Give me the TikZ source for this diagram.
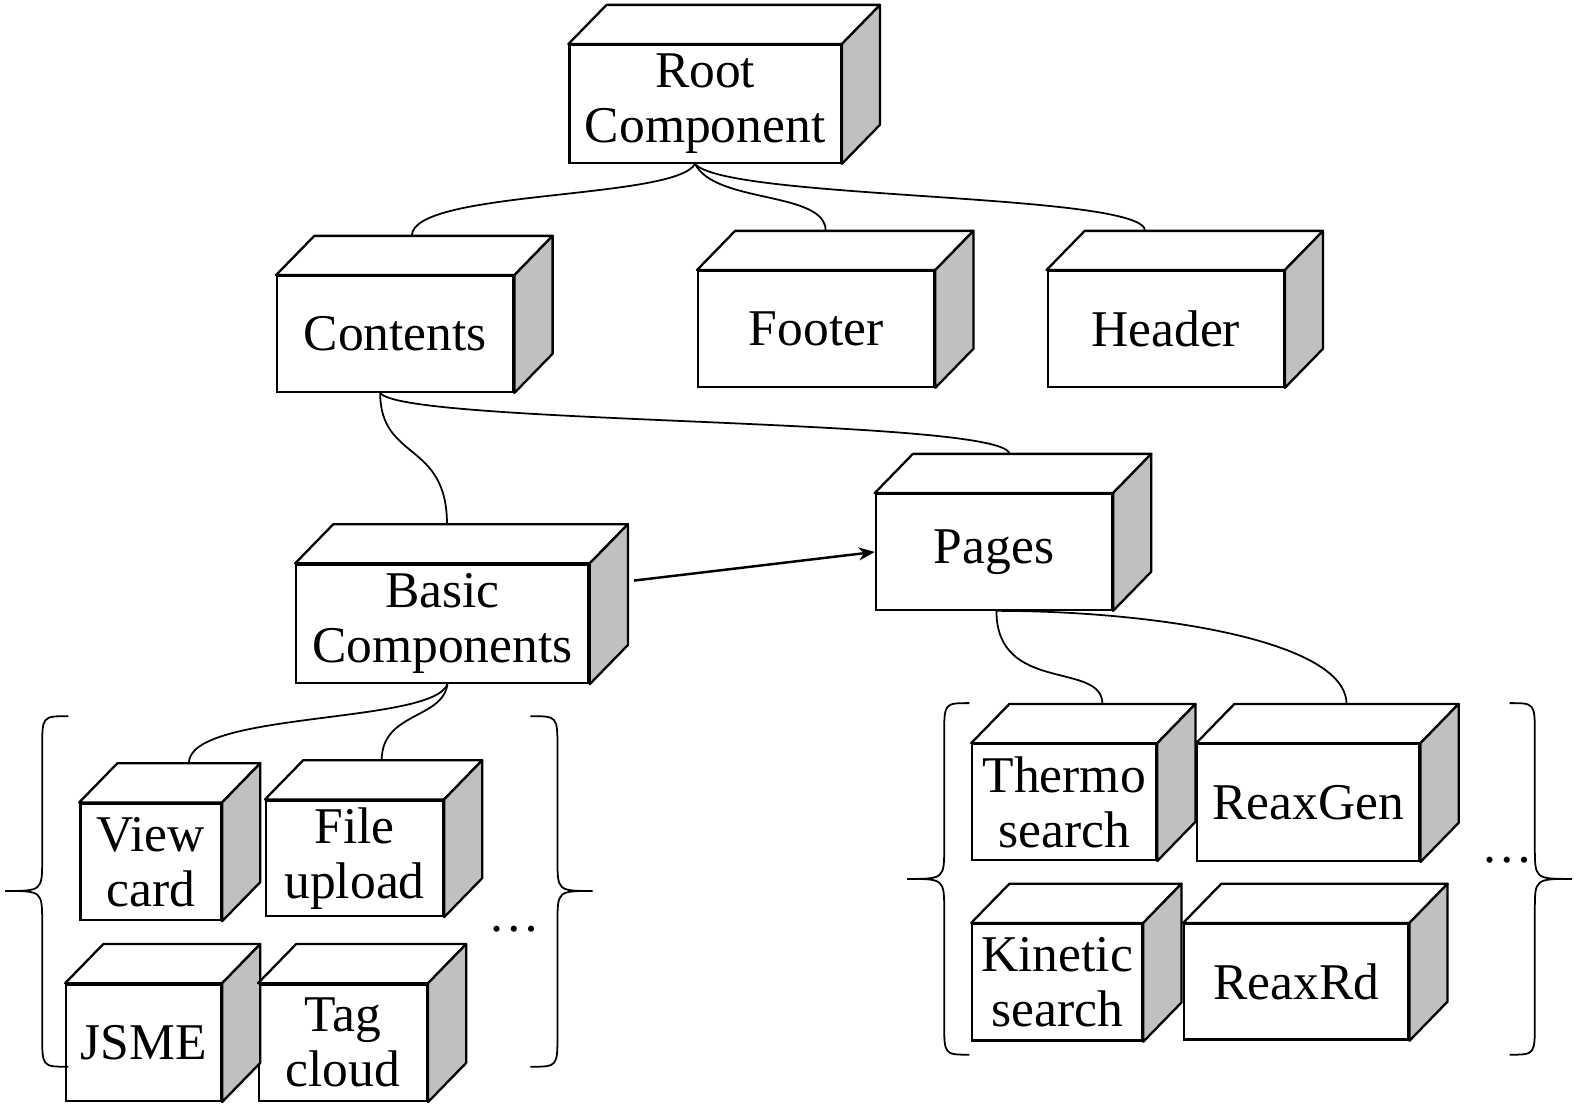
\documentclass[tikz,border=0pt]{standalone}
\usepackage{fontspec}
\setmainfont{Liberation Serif}
\usetikzlibrary{calc,arrows.meta}

\definecolor{sidegray}{RGB}{192,192,192}

\tikzset{
  cube/.style={draw, line width=0.65pt, fill=white, inner sep=0pt, align=center,
    font=\fontsize{14.6}{15.6}\selectfont},
  face/.style={draw, line width=0.65pt, line join=round},
  link/.style={line width=0.5pt},
  brace/.style={line width=0.5pt},
}

\begin{document}
\begin{tikzpicture}
    \useasboundingbox (0,0) rectangle (15.68,-11.01);

    % boxes (front faces)
    \node[cube, minimum width=2.70cm, minimum height=1.17cm] (root) at (7.02,-1.035) {Root\\Component};
    \node[cube, minimum width=2.35cm, minimum height=1.15cm] (contents) at (3.935,-3.325) {Contents};
    \node[cube, minimum width=2.35cm, minimum height=1.15cm] (footer) at (8.125,-3.275) {Footer};
    \node[cube, minimum width=2.35cm, minimum height=1.15cm] (header) at (11.605,-3.275) {Header};
    \node[cube, minimum width=2.91cm, minimum height=1.18cm] (basic) at (4.405,-6.21) {Basic\\Components};
    \node[cube, minimum width=2.35cm, minimum height=1.15cm] (pages) at (9.895,-5.495) {Pages};
    \node[cube, minimum width=1.40cm, minimum height=1.16cm] (viewcard) at (1.50,-8.58) {View\\card};
    \node[cube, minimum width=1.76cm, minimum height=1.15cm] (fileupload) at (3.53,-8.545) {File\\upload};
    \node[cube, minimum width=1.54cm, minimum height=1.16cm] (jsme) at (1.43,-10.38) {JSME};
    \node[cube, minimum width=1.67cm, minimum height=1.16cm] (tagcloud) at (3.415,-10.38) {Tag\\cloud};
    \node[cube, minimum width=1.83cm, minimum height=1.15cm] (thermo) at (10.595,-7.985) {Thermo\\search};
    \node[cube, minimum width=2.21cm, minimum height=1.16cm] (reaxgen) at (13.025,-7.99) {ReaxGen};
    \node[cube, minimum width=1.69cm, minimum height=1.16cm] (kinetic) at (10.525,-9.78) {Kinetic\\search};
    \node[cube, minimum width=2.23cm, minimum height=1.15cm] (reaxrd) at (12.905,-9.775) {ReaxRd};

    % top and side faces
    \foreach \n in {root,contents,footer,header,basic,pages,viewcard,fileupload,jsme,tagcloud,thermo,reaxgen,kinetic,reaxrd} {
        \draw[face, fill=white] (\n.north west) -- ++(0.38,0.39) -- ($(\n.north east)+(0.38,0.39)$) -- (\n.north east) -- cycle;
        \draw[face, fill=sidegray] (\n.north east) -- ++(0.38,0.39) -- ($(\n.south east)+(0.38,0.39)$) -- (\n.south east) -- cycle;
        \coordinate (\n-back) at ($(\n.north)+(0.38,0.39)$);
    }

    % connectors
    \draw[link] ([xshift=-1mm]root.south) .. controls +(-0.2,-0.36) and +(0,0.46) .. ([xshift=-2.15mm]contents-back);
    \draw[link] ([xshift=-1mm]root.south) .. controls +(0.2,-0.4) and +(0,0.4) .. ([xshift=-2.85mm]footer-back);
    \draw[link] ([xshift=-1mm]root.south) .. controls +(0.3,-0.36) and +(0,0.38) .. ([xshift=-5.85mm]header-back);
    \draw[link] ([xshift=-1.5mm]contents.south) .. controls +(0,-0.68) and +(0,0.83) .. ([xshift=-3.35mm]basic-back);
    \draw[link] ([xshift=-1.5mm]contents.south) .. controls +(0.22,-0.32) and +(-0.05,0.36) .. ([xshift=-2.25mm]pages-back);
    \draw[link] ([xshift=0.5mm]basic.south) .. controls +(-0.15,-0.4) and +(0,0.52) .. (viewcard-back);
    \draw[link] ([xshift=0.5mm]basic.south) .. controls +(-0.05,-0.35) and +(0,0.48) .. ([xshift=-1.1mm]fileupload-back);
    \draw[link] ([xshift=0.25mm]pages.south) .. controls +(0,-0.83) and +(0,0.43) .. (thermo-back);
    \draw[link] ([xshift=0.25mm]pages.south) .. controls +(1.58,0) and +(0,0.63) .. (reaxgen-back);

    \draw[line width=0.7pt, -{Stealth[length=1.6mm, width=1.3mm]}] ([shift={(0.44,0.43)}]basic.east) -- (pages.west);

    % braces
    \draw[brace] (0.68,-7.13) .. controls (0.42,-7.13) .. (0.42,-7.45) -- (0.42,-8.55)
        .. controls (0.42,-8.87) .. (0.05,-8.87) .. controls (0.42,-8.87) .. (0.42,-9.19)
        -- (0.42,-10.30) .. controls (0.42,-10.62) .. (0.68,-10.62);
    \draw[brace] (5.28,-7.13) .. controls (5.55,-7.13) .. (5.55,-7.45) -- (5.55,-8.55)
        .. controls (5.55,-8.87) .. (5.90,-8.87) .. controls (5.55,-8.87) .. (5.55,-9.19)
        -- (5.55,-10.30) .. controls (5.55,-10.62) .. (5.28,-10.62);
    \draw[brace] (9.65,-7.00) .. controls (9.40,-7.00) .. (9.40,-7.32) -- (9.40,-8.43)
        .. controls (9.40,-8.75) .. (9.03,-8.75) .. controls (9.40,-8.75) .. (9.40,-9.07)
        -- (9.40,-10.18) .. controls (9.40,-10.50) .. (9.65,-10.50);
    \draw[brace] (15.03,-7.00) .. controls (15.28,-7.00) .. (15.28,-7.32) -- (15.28,-8.43)
        .. controls (15.28,-8.75) .. (15.65,-8.75) .. controls (15.28,-8.75) .. (15.28,-9.07)
        -- (15.28,-10.18) .. controls (15.28,-10.50) .. (15.03,-10.50);

    \node[font=\fontsize{14.6}{15.6}\selectfont] (moreleft) at (5.12,-9.25) {\ldots};
    \node[font=\fontsize{14.6}{15.6}\selectfont] (moreright) at (15.01,-8.56) {\ldots};
\end{tikzpicture}
\end{document}
